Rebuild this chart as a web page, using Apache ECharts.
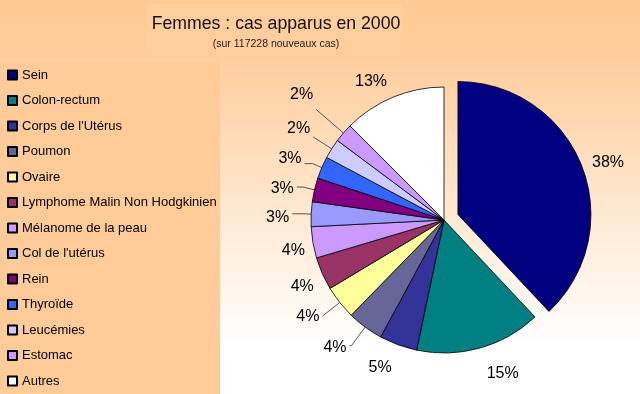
<!DOCTYPE html>
<html>
<head>
<meta charset="utf-8">
<script src="https://cdn.jsdelivr.net/npm/echarts@6/dist/echarts.min.js"></script>
<style>
html,body{margin:0;padding:0;background:#fff;}
#chart{width:640px;height:394px;}
</style>
</head>
<body>
<div id="chart"></div>
<script>
const categories = ["Sein","Colon-rectum","Corps de l'Utérus","Poumon","Ovaire","Lymphome Malin Non Hodgkinien","Mélanome de la peau","Col de l'utérus","Rein","Thyroïde","Leucémies","Estomac","Autres"];
const values = [38,15.3,4.6,4.4,4.1,4.0,3.8,3.0,2.9,2.7,2.4,2.3,12.5];
const titleText = "Femmes : cas apparus en 2000";
const subtitleText = "(sur 117228 nouveaux cas)";

// styling (not data): leader-line lengths and small label nudges
const colors = ["#000080","#008080","#333399","#666699","#FFFF99","#993366","#CC99FF","#9999FF","#800080","#3366FF","#CCCCFF","#CC99FF","#FFFFFF"];
const labelStyle = [
  {line:false,len:8, len2:0, dy:0},
  {line:false,len:14,len2:0, dy:12},
  {line:false,len:10,len2:0, dy:13},
  {line:true, len:23,len2:2, dy:2},
  {line:true, len:22,len2:0, dy:0},
  {line:false,len:6, len2:0, dy:11},
  {line:false,len:5, len2:0, dy:7},
  {line:true, len:8, len2:11,dy:4},
  {line:true, len:12,len2:6, dy:2},
  {line:true, len:10,len2:8, dy:-5},
  {line:true, len:22,len2:0, dy:-8},
  {line:true, len:36,len2:0, dy:-15},
  {line:false,len:8, len2:0, dy:-8}
];

const chart = echarts.init(document.getElementById('chart'), null, {renderer:'canvas'});
const data = categories.map((c,i)=>({
  name:c, value:values[i], selected: i===0,
  itemStyle:{color:colors[i]},
  labelLine:{show:labelStyle[i].line, length:labelStyle[i].len, length2:labelStyle[i].len2}
}));
chart.setOption({
  animation:false,
  graphic:[
    {type:'rect', z:-10, shape:{x:0,y:0,width:640,height:394},
     style:{fill:new echarts.graphic.LinearGradient(0,0,0,1,[
       {offset:0,color:'#FFC994'},{offset:0.12,color:'#FFCC99'},{offset:0.88,color:'#FFFFFF'},{offset:1,color:'#FFFFFF'}])}},
    {type:'rect', z:-9, shape:{x:0,y:62,width:220,height:332}, style:{fill:'#FFCC99'}},
    {type:'rect', z:-9, shape:{x:147,y:4,width:256,height:48}, style:{fill:'#FFCE9C'}}
  ],
  title:[
    {text:titleText, left:276, top:15, textAlign:'center', padding:0,
     textStyle:{fontFamily:'Arial, Liberation Sans',fontSize:17.7,fontWeight:'normal',color:'#111'}},
    {text:subtitleText, left:276, top:39, textAlign:'center', padding:0,
     textStyle:{fontFamily:'Arial, Liberation Sans',fontSize:10.5,fontWeight:'normal',color:'#222'}}
  ],
  legend:{
    orient:'vertical', left:7, top:68, icon:'rect', padding:0,
    itemWidth:9, itemHeight:9, itemGap:11.5,
    selectedMode:false,
    textStyle:{fontFamily:'Arial, Liberation Sans',fontSize:13,color:'#000',lineHeight:14},
    data:categories
  },
  series:[{
    type:'pie', center:[444,220], radius:133,
    startAngle:90, clockwise:true,
    selectedMode:'single', selectedOffset:15,
    percentPrecision:0,
    avoidLabelOverlap:false,
    emphasis:{scale:false},
    itemStyle:{borderColor:'#000',borderWidth:0.8},
    label:{show:true, position:'outside', formatter:'{d}%',
      fontFamily:'Arial, Liberation Sans', fontSize:16, color:'#000', distanceToLabelLine:3},
    labelLine:{lineStyle:{color:'#555',width:1}},
    labelLayout:function(p){ return {dy: labelStyle[p.dataIndex].dy}; },
    data:data
  }]
});
</script>
</body>
</html>
